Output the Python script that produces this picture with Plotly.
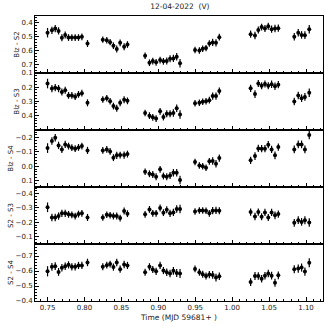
import plotly.graph_objects as go
from plotly.subplots import make_subplots

time = [0.7500, 0.7559, 0.7604, 0.7649, 0.7694, 0.7739, 0.7784, 0.7829, 0.7874, 0.7919, 0.7965, 0.8041,
        0.8248, 0.8302, 0.8347, 0.8392, 0.8437, 0.8483, 0.8537, 0.8582,
        0.8821, 0.8880, 0.8925, 0.8970, 0.9024, 0.9069, 0.9114, 0.9159, 0.9204, 0.9249, 0.9294,
        0.9497, 0.9556, 0.9601, 0.9646, 0.9691, 0.9736, 0.9781, 0.9826,
        1.0250, 1.0309, 1.0354, 1.0399, 1.0444, 1.0489, 1.0534, 1.0580, 1.0625,
        1.0841, 1.0895, 1.0940, 1.0985, 1.1044]

blz_s2 = [0.470, 0.453, 0.440, 0.457, 0.507, 0.486, 0.505, 0.505, 0.505, 0.505, 0.500, 0.548,
          0.520, 0.524, 0.538, 0.564, 0.588, 0.543, 0.571, 0.555,
          0.636, 0.686, 0.674, 0.683, 0.667, 0.676, 0.674, 0.657, 0.655, 0.643, 0.690,
          0.595, 0.598, 0.586, 0.581, 0.548, 0.540, 0.543, 0.502,
          0.481, 0.490, 0.450, 0.430, 0.440, 0.424, 0.445, 0.440, 0.438,
          0.500, 0.471, 0.486, 0.488, 0.445]

blz_s3 = [0.175, 0.211, 0.204, 0.211, 0.235, 0.223, 0.259, 0.259, 0.268, 0.252, 0.243, 0.312,
          0.288, 0.279, 0.300, 0.335, 0.350, 0.312, 0.290, 0.298,
          0.384, 0.403, 0.415, 0.424, 0.372, 0.413, 0.389, 0.389, 0.384, 0.350, 0.395,
          0.315, 0.312, 0.305, 0.300, 0.293, 0.264, 0.264, 0.228,
          0.209, 0.250, 0.175, 0.190, 0.178, 0.190, 0.180, 0.194, 0.183,
          0.302, 0.260, 0.279, 0.270, 0.240]

blz_s4 = [-0.127, -0.177, -0.200, -0.146, -0.118, -0.153, -0.141, -0.130, -0.123, -0.132, -0.141, -0.111,
          -0.111, -0.118, -0.104, -0.060, -0.076, -0.078, -0.078, -0.085,
          0.039, 0.053, 0.058, 0.074, 0.022, 0.069, 0.074, 0.065, 0.046, 0.046, 0.097,
          -0.029, -0.005, 0.001, 0.011, -0.034, -0.036, -0.017, -0.057,
          -0.041, -0.071, -0.125, -0.123, -0.123, -0.151, -0.118, -0.076, -0.134,
          -0.118, -0.153, -0.153, -0.118, -0.219]

s2_s3 = [-0.305, -0.233, -0.233, -0.243, -0.262, -0.262, -0.255, -0.252, -0.243, -0.257, -0.262, -0.233,
         -0.233, -0.252, -0.248, -0.243, -0.243, -0.229, -0.279, -0.260,
         -0.255, -0.290, -0.262, -0.262, -0.300, -0.267, -0.288, -0.262, -0.269, -0.293, -0.293,
         -0.276, -0.283, -0.283, -0.281, -0.262, -0.281, -0.283, -0.281,
         -0.271, -0.240, -0.271, -0.238, -0.269, -0.233, -0.269, -0.248, -0.257,
         -0.195, -0.214, -0.202, -0.214, -0.198]

s2_s4 = [-0.598, -0.628, -0.632, -0.594, -0.621, -0.632, -0.641, -0.628, -0.628, -0.637, -0.637, -0.657,
         -0.628, -0.639, -0.646, -0.626, -0.657, -0.612, -0.644, -0.637,
         -0.592, -0.628, -0.610, -0.598, -0.637, -0.603, -0.592, -0.583, -0.601, -0.587, -0.583,
         -0.614, -0.592, -0.578, -0.567, -0.576, -0.574, -0.556, -0.565,
         -0.526, -0.567, -0.567, -0.549, -0.569, -0.583, -0.569, -0.522, -0.571,
         -0.612, -0.616, -0.623, -0.596, -0.655]

errors = [0.034, 0.026, 0.026, 0.026, 0.025, 0.025, 0.024, 0.024, 0.024, 0.024, 0.024, 0.025,
          0.023, 0.023, 0.023, 0.024, 0.025, 0.024, 0.025, 0.024,
          0.023, 0.024, 0.024, 0.024, 0.024, 0.024, 0.025, 0.025, 0.026, 0.027, 0.030,
          0.023, 0.023, 0.023, 0.023, 0.024, 0.026, 0.026, 0.025,
          0.026, 0.027, 0.025, 0.025, 0.025, 0.025, 0.026, 0.027, 0.026,
          0.027, 0.027, 0.027, 0.028, 0.030]

series = [blz_s2, blz_s3, blz_s4, s2_s3, s2_s4]
ylabels = ["Blz - S2", "Blz - S3", "Blz - S4", "S2 - S3", "S2 - S4"]
yranges = [[0.76, 0.35], [0.505, 0.10], [0.146, -0.254], [-0.046, -0.448], [-0.40, -0.78]]
ytickvals = [[0.4, 0.5, 0.6, 0.7], [0.1, 0.2, 0.3, 0.4], [-0.2, -0.1, 0.0, 0.1],
             [-0.4, -0.3, -0.2, -0.1], [-0.7, -0.6, -0.5, -0.4]]
xtickvals = [0.75, 0.80, 0.85, 0.90, 0.95, 1.00, 1.05, 1.10]

FONT = "DejaVu Sans"
fig = make_subplots(rows=5, cols=1, shared_xaxes=True, vertical_spacing=0)

for i, (vals, lab) in enumerate(zip(series, ylabels), start=1):
    fig.add_trace(go.Scatter(
        x=time, y=vals, mode="markers",
        marker=dict(color="black", size=4),
        error_y=dict(type="data", array=errors, color="black", thickness=1.2, width=0),
        showlegend=False), row=i, col=1)
    fig.update_yaxes(row=i, col=1, range=yranges[i - 1], tickvals=ytickvals[i - 1],
                     tickformat=".1f", ticks="inside", ticklen=4, tickwidth=1, tickcolor="black",
                     minor=dict(dtick=0.02, ticks="inside", ticklen=2, tickcolor="black", showgrid=False),
                     showline=True, linecolor="black", linewidth=1, mirror=True,
                     showgrid=False, zeroline=False,
                     tickfont=dict(size=7, family=FONT, color="#222"),
                     title=dict(text=lab, font=dict(size=7, family=FONT, color="#222"), standoff=1))
    fig.update_xaxes(row=i, col=1, range=[0.733, 1.123], tickvals=xtickvals, tickformat=".2f",
                     ticks="inside", ticklen=4, tickwidth=1, tickcolor="black",
                     minor=dict(dtick=0.01, ticks="inside", ticklen=2, tickcolor="black", showgrid=False),
                     showline=True, linecolor="black", linewidth=1, mirror=True,
                     showgrid=False, zeroline=False,
                     tickfont=dict(size=7, family=FONT, color="#222"))

fig.update_xaxes(row=5, col=1, showticklabels=True,
                 title=dict(text="Time (MJD 59681+ )", font=dict(size=7.5, family=FONT, color="#222"),
                            standoff=3))

fig.update_layout(
    width=327, height=327,
    margin=dict(l=35, r=4, t=16, b=26),
    paper_bgcolor="white", plot_bgcolor="white",
    title=dict(text="12-04-2022  (V)", x=0.55, xanchor="center", y=0.982, yanchor="middle",
               font=dict(size=7.5, family=FONT, color="#222")),
)

fig.write_html("out.html", config={"displayModeBar": False},
               post_script="document.body.style.margin='0';")
